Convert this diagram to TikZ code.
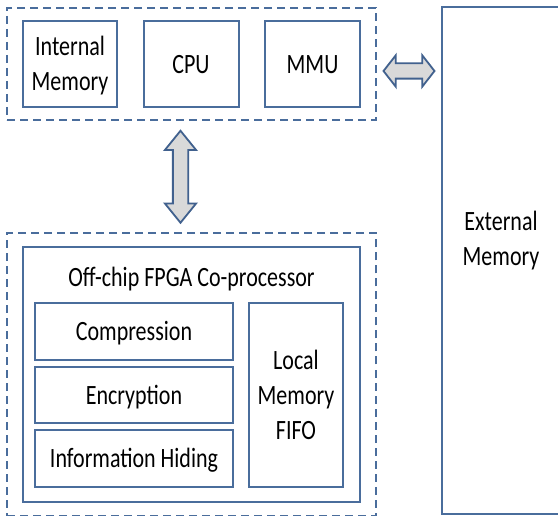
\documentclass[tikz,border=0pt]{standalone}
\usepackage{graphicx}
\usepackage{fontspec}
\setmainfont{Carlito}
\usetikzlibrary{positioning, fit, calc, shapes.arrows}
\definecolor{boxline}{HTML}{4A6D9C}
\definecolor{arrfill}{HTML}{D9D9D9}
\definecolor{arrline}{HTML}{41618E}
% text in the reference is drawn a bit taller than wide
\newcommand{\tall}[1]{\scalebox{1}[1.27]{\raisebox{-1.8pt}[\height][\depth]{\begin{tabular}{@{}c@{}}#1\end{tabular}}}}
\tikzset{
  blk/.style     = {rectangle, draw=boxline, line width=2pt, align=center,
                    font=\fontsize{22}{27.5}\selectfont, inner sep=0pt},
  txt/.style     = {align=center, font=\fontsize{22}{27.5}\selectfont, inner sep=0pt},
  grp/.style     = {rectangle, draw=boxline, line width=2pt,
                    dash pattern=on 8pt off 5pt, inner sep=0pt},
  busarrow/.style= {double arrow, draw=arrline, fill=arrfill, line width=1.8pt,
                    inner sep=0pt, text height=6.75pt, text depth=6.75pt,
                    double arrow head extend=8pt},
}

\begin{document}
\begin{tikzpicture}[x=1pt, y=-1pt]
  \useasboundingbox (0,0) rectangle (558,516);
  % processor side
  \node[blk, minimum width=94pt, minimum height=86pt] (intmem) at (70,64) {\tall{Internal\\Memory}};
  \node[blk, minimum width=95pt, minimum height=86pt] (cpu) at (191,64) {\tall{CPU}};
  \node[blk, minimum width=95pt, minimum height=86pt] (mmu) at (312.5,64) {\tall{MMU}};
  \node[grp, fit=(intmem)(cpu)(mmu), inner xsep=15pt, inner ysep=12pt] (cpuside) {};
  % external memory
  \node[blk, minimum width=118pt, minimum height=507pt,
        label={[txt, yshift=22pt]center:\tall{External\\Memory}}] (extmem) at (501,260.5) {};
  % co-processor side
  \node[blk, minimum width=337pt, minimum height=255pt] (fpga) at (191.5,374.5) {};
  \node[txt] (fpgatitle) at (191.5,277) {\tall{Off-chip FPGA Co-processor}};
  \node[blk, minimum width=198pt, minimum height=57pt] (comp) at (134,331.5) {\tall{Compression}};
  \node[blk, minimum width=198pt, minimum height=56pt] (enc) at (134,395) {\tall{Encryption}};
  \node[blk, minimum width=198pt, minimum height=57pt] (hide) at (134,458.5) {\tall{Information Hiding}};
  \node[blk, minimum width=94pt, minimum height=184pt] (localmem) at (296,395) {\tall{Local\\Memory\\FIFO}};
  \node[grp, fit=(fpga), inner xsep=15pt, inner ysep=12.5pt] (fpgaside) {};
  % links
  \node[busarrow, minimum height=51pt, double arrow tip angle=104]
    (extlink) at ($(cpuside.east)!0.5!(cpuside.east -| extmem.west) + (0,7)$) {};
  \node[busarrow, minimum height=92pt, double arrow tip angle=78, rotate=90]
    (fpgalink) at ($(cpuside.south)!0.5!(fpgaside.north) + (-11,0)$) {};
\end{tikzpicture}
\end{document}
